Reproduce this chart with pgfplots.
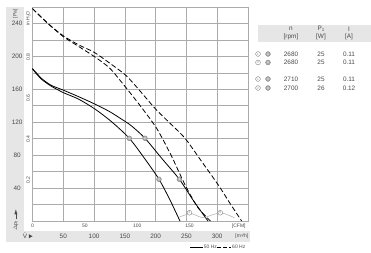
\documentclass[border=0pt]{standalone}
\usepackage{fontspec}
\setmainfont{Liberation Sans}
\usepackage{pgfplots}
\pgfplotsset{compat=1.18}
\definecolor{txt}{HTML}{4A4A4A}
\definecolor{grd}{HTML}{ABABAB}
\definecolor{band}{HTML}{E6E6E6}
\definecolor{mk}{HTML}{B0B0B0}
\newcommand{\fs}{\fontsize{6.4}{7}\selectfont}
\newcommand{\sm}{\fontsize{5}{5.5}\selectfont}
\begin{document}
\begin{tikzpicture}[x=1pt,y=1pt,font=\fs,text=txt]
\useasboundingbox (0,0) rectangle (371,253);
% label bands
\fill[band] (6,246) rectangle (24,11);
\fill[band] (6,22) rectangle (250,11);
\fill[band] (258,228) rectangle (371,211);
\begin{axis}[at={(32.5pt,32pt)},anchor=south west,scale only axis,
  width=215.5pt,height=214pt,
  xmin=0,xmax=350,ymin=0,ymax=260,
  xtick={0,50,...,350},ytick={0,20,...,260},
  xticklabels={},yticklabels={},
  grid=major,major grid style={grd,line width=0.6pt},
  axis line style={grd,line width=0.6pt},
  tick style={draw=none},clip=false]
% 50 Hz curves
\addplot[black,line width=0.8pt,smooth,tension=0.45] coordinates {
(0,185) (5,180) (15,172) (30,164) (50,156) (75,148) (101.5,136) (128.6,120.5) (157.2,100.5) (182,76) (205.4,50.7) (223,26) (239.5,0)};
\addplot[black,line width=0.8pt,smooth,tension=0.45] coordinates {
(0,185) (5,181) (15,173) (30,165) (50,159) (75,151) (101.5,142) (125,133) (142,125) (160,116) (182.7,100.5) (210,76) (238.5,50.7) (262,24) (285,0)};
% 60 Hz curves
\addplot[black,line width=0.8pt,dash pattern=on 5pt off 2.5pt,smooth,tension=0.45] coordinates {
(0,258) (25,240) (50,224) (75,212) (100,200) (125,186) (147.5,166) (175,140) (201.6,112.6) (225,80) (247.7,44) (268,17) (289,0)};
\addplot[black,line width=0.8pt,dash pattern=on 5pt off 2.5pt,smooth,tension=0.45] coordinates {
(0,258) (25,240) (50,225) (75,214) (100,205) (125,192) (150,178) (166.5,165) (200,136) (223,119) (247.7,100.5) (275,72) (301.8,43.7) (322,20) (339.7,0)};
% operating limit
\addplot[grd,line width=0.5pt,smooth] coordinates {
(239,5) (250,8) (255,10) (262,8) (277,4) (290,7) (305,10) (315,8) (328,4)};
% markers
\addplot[only marks,mark=*,mark size=2.4pt,mark options={fill=mk,draw=gray,line width=0.4pt},
  point meta=explicit symbolic,nodes near coords,
  every node near coord/.style={font=\fontsize{3}{3}\selectfont,text=white,inner sep=0pt,anchor=center,yshift=0pt}]
  coordinates {(157.2,100.5)[1] (182.7,100.5)[2] (205.4,50.7)[3] (238.5,50.7)[4]};
\addplot[only marks,mark=*,mark size=2.4pt,mark options={fill=white,draw=gray,line width=0.4pt},
  point meta=explicit symbolic,nodes near coords,
  every node near coord/.style={font=\fontsize{3}{3}\selectfont,text=gray,inner sep=0pt,anchor=center}]
  coordinates {(255,10)[5] (305,10)[6]};
% Pa labels
\node at (axis cs:-25,40) {40};
\node at (axis cs:-25,80) {80};
\node at (axis cs:-25,120) {120};
\node at (axis cs:-25,160) {160};
\node at (axis cs:-25,200) {200};
\node at (axis cs:-25,240) {240};
\node[rotate=90,font=\sm] at (axis cs:-28,252) {[Pa]};
% in H2O labels
\node[rotate=90,font=\sm] at (axis cs:-7,49.8) {0.2};
\node[rotate=90,font=\sm] at (axis cs:-7,99.6) {0.4};
\node[rotate=90,font=\sm] at (axis cs:-7,149.4) {0.6};
\node[rotate=90,font=\sm] at (axis cs:-7,199.2) {0.8};
\node[rotate=90,font=\sm] at (axis cs:-7,246) {in H\raisebox{-0.3ex}{\scalebox{0.7}{2}}O};
% Delta p
\node[rotate=90,font=\fontsize{5.5}{5.5}\selectfont] at (axis cs:-27,-6) {$\Delta$p\raisebox{-0.3ex}{\scalebox{0.7}{f}}};
\fill[txt] (axis cs:-29.5,8) -- (axis cs:-24.5,8) -- (axis cs:-27,14) -- cycle;
\draw[txt,line width=0.4pt] (axis cs:-27,8) -- (axis cs:-27,3);
% CFM labels
\node[font=\sm] at (axis cs:0,-6) {0};
\node[font=\sm] at (axis cs:85,-6) {50};
\node[font=\sm] at (axis cs:170,-6) {100};
\node[font=\sm] at (axis cs:255,-6) {150};
\node[font=\sm] at (axis cs:335,-6) {[CFM]};
% m3/h labels
\node at (axis cs:50,-18.5) {50};
\node at (axis cs:100,-18.5) {100};
\node at (axis cs:150,-18.5) {150};
\node at (axis cs:200,-18.5) {200};
\node at (axis cs:250,-18.5) {250};
\node at (axis cs:300,-18.5) {300};
\node[font=\sm] at (axis cs:340,-18.5) {[m\raisebox{0.5ex}{\scalebox{0.6}{3}}/h]};
\node at (axis cs:-12,-18.5) {V};
\node at (axis cs:-12,-14.5) {.};
\fill[txt] (axis cs:-6,-16) -- (axis cs:-6,-21) -- (axis cs:0,-18.5) -- cycle;
% legend
\draw[black,line width=0.8pt] (axis cs:256,-31.5) -- (axis cs:277,-31.5);
\node[font=\sm] at (axis cs:289,-31.5) {50 Hz};
\draw[black,line width=0.8pt,dash pattern=on 4pt off 2pt] (axis cs:300,-31.5) -- (axis cs:322,-31.5);
\node[font=\sm] at (axis cs:335,-31.5) {60 Hz};
\end{axis}
% table
\node at (291,224) {n};
\node at (291,216) {[rpm]};
\node at (321,224) {P\raisebox{-0.3ex}{\scalebox{0.7}{1}}};
\node at (321,216) {[W]};
\node at (349,224) {I};
\node at (349,216) {[A]};
\foreach \y/\n/\p/\i/\a/\b in {199/2680/25/0.11/1/1,190.5/2680/25/0.11/2/2,174/2710/25/0.11/1/3,165/2700/26/0.12/2/4}{
  \draw[gray,line width=0.4pt,fill=white] (258,\y) circle (2.4);
  \node[font=\fontsize{3}{3}\selectfont,text=gray] at (258,\y) {\a};
  \draw[gray,line width=0.4pt,fill=mk] (268,\y) circle (2.4);
  \node[font=\fontsize{3}{3}\selectfont,text=white] at (268,\y) {\b};
  \node at (291,\y) {\n};
  \node at (321,\y) {\p};
  \node at (349,\y) {\i};
}
\end{tikzpicture}
\end{document}
